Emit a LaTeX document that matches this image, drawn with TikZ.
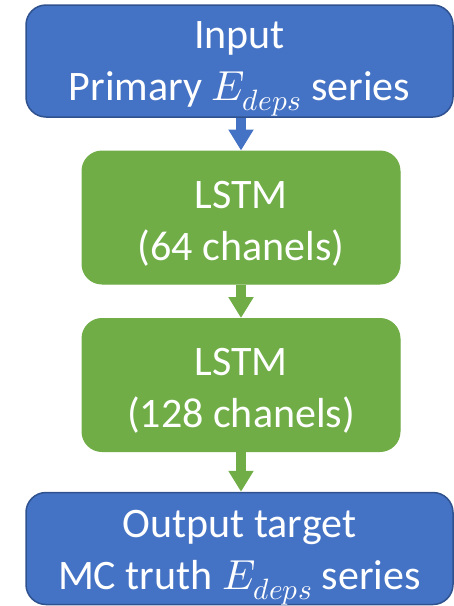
\documentclass[tikz,border=0pt]{standalone}
\usepackage{fontspec}
\usepackage{unicode-math}
\setmainfont{Carlito}
\setmathfont{Latin Modern Math}
\usetikzlibrary{arrows.meta}
\definecolor{boxblue}{HTML}{4472C4}
\definecolor{boxblueedge}{HTML}{2F528F}
\definecolor{boxgreen}{HTML}{70AD47}
\tikzset{
  base/.style={rounded corners=20pt, inner sep=0pt},
  caption/.style={text=white, align=center,
    font=\fontsize{42}{52}\selectfont, inner sep=0pt},
  iobox/.style={base, fill=boxblue, draw=boxblueedge, line width=1.5pt,
    minimum width=427pt, minimum height=112pt},
  lstmbox/.style={base, fill=boxgreen, draw=boxgreen, line width=1pt,
    minimum width=318pt, minimum height=133pt},
  flow/.style={line width=10pt, -{Triangle[length=21pt,width=24pt]}},
}
\begin{document}
\begin{tikzpicture}[x=1pt, y=-1pt]
\useasboundingbox (0,0) rectangle (454,606);
\node[iobox, label={[caption, yshift=-8pt]center:Input\\Primary $E_{deps}$ series}] (in) at (239.5,61) {};
\node[lstmbox, label={[caption, yshift=-6pt]center:LSTM\\(64 chanels)}] (l1) at (241,217.5) {};
\node[lstmbox, label={[caption, yshift=-6pt]center:LSTM\\(128 chanels)}] (l2) at (241,385) {};
\node[iobox, label={[caption, yshift=-9pt]center:Output target\\MC truth $E_{deps}$ series}] (out) at (239.5,548.5) {};
\draw[flow, boxblue] (in.south -| l1.north) -- (l1.north);
\draw[flow, boxgreen] (l1.south) -- (l2.north);
\draw[flow, boxgreen] (l2.south) -- (out.north -| l2.south);
\end{tikzpicture}
\end{document}
